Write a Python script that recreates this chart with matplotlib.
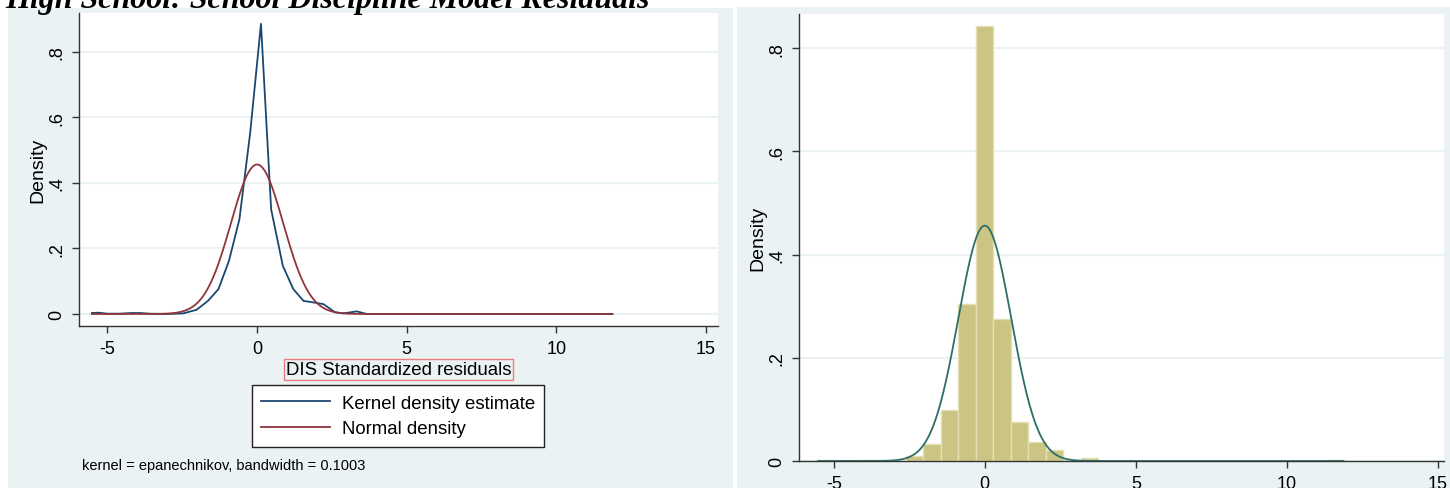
import numpy as np
import matplotlib
matplotlib.use("Agg")
import matplotlib.pyplot as plt
from matplotlib.patches import Rectangle
from matplotlib.lines import Line2D

plt.rcParams['font.family'] = ['Liberation Sans', 'DejaVu Sans']
plt.rcParams['axes.unicode_minus'] = False

# kernel density estimate of the standardized residuals
kde_x = [-5.52, -5.3, -5.0, -4.6, -4.2, -3.9, -3.6, -3.0, -2.46, -2.02, -1.64,
         -1.29, -0.94, -0.59, -0.23, 0.13, 0.47, 0.86, 1.21, 1.55, 1.9, 2.22,
         2.61, 2.89, 3.33, 3.67, 4.0, 11.87]
kde_y = [0.003, 0.004, 0.001, 0.001, 0.003, 0.003, 0.001, 0.0, 0.002, 0.013, 0.04,
         0.076, 0.162, 0.289, 0.553, 0.885, 0.319, 0.147, 0.076, 0.040, 0.035, 0.030,
         0.005, 0.002, 0.008, 0.0, 0.0, 0.0]

# histogram: 30 bins from the min to the max residual
resid_min = -5.52
resid_max = 11.87
hist_density = [0.002, 0.0, 0.002, 0.002, 0.0, 0.010, 0.032, 0.099, 0.305, 0.843,
                0.276, 0.076, 0.037, 0.022, 0.0, 0.006, 0.0, 0.0, 0.0, 0.0,
                0.0, 0.0, 0.0, 0.0, 0.0, 0.0, 0.0, 0.0, 0.0, 0.002]

# normal density fitted to the residuals
resid_mean = 0.0
resid_sd = 0.875

xticks = [-5, 0, 5, 10, 15]
yticks = [0, 0.2, 0.4, 0.6, 0.8]
ytick_labels = ['0', '.2', '.4', '.6', '.8']

BG = '#EAF2F3'
GRID = '#EAF2F3'
NAVY = '#1A476F'
MAROON = '#90353B'
TEAL = '#2D6E68'
KHAKI = '#CBC583'

W, H = 1450, 489
fig = plt.figure(figsize=(W / 100, H / 100), dpi=100)
fig.patch.set_facecolor('white')

# graph region backgrounds
fig.add_artist(Rectangle((8 / W, 0), (733 - 8) / W, 1 - 9 / H,
                         transform=fig.transFigure, fc=BG, ec='none', zorder=0))
fig.add_artist(Rectangle((737 / W, 0), (W - 737) / W, 1 - 8 / H,
                         transform=fig.transFigure, fc=BG, ec='none', zorder=0))


def style_axes(ax):
    ax.set_facecolor('white')
    for s in ('top', 'right'):
        ax.spines[s].set_visible(False)
    for s in ('left', 'bottom'):
        ax.spines[s].set_color('#333333')
        ax.spines[s].set_linewidth(1.0)
    ax.set_xticks(xticks)
    ax.set_yticks(yticks)
    ax.set_yticklabels(ytick_labels, rotation=90, va='center')
    ax.tick_params(direction='out', length=5, width=1, color='#333333',
                   labelsize=13, pad=5)
    ax.grid(axis='y', color=GRID, lw=1.5)
    ax.set_axisbelow(True)
    ax.set_ylabel('Density', fontsize=14, labelpad=1)


def normal_pdf(x):
    return np.exp(-0.5 * ((x - resid_mean) / resid_sd) ** 2) / (resid_sd * np.sqrt(2 * np.pi))


grid_x = np.linspace(resid_min, resid_max, 600)

# left: kernel density vs normal
ax1 = fig.add_axes([79 / W, 1 - 327 / H, (718 - 79) / W, (327 - 14) / H])
style_axes(ax1)
ax1.plot(kde_x, kde_y, color=NAVY, lw=1.3)
ax1.plot(grid_x, normal_pdf(grid_x), color=MAROON, lw=1.3)
ax1.set_xlim(-5.95, 15.4)
ax1.set_ylim(-0.0366, 0.918)
ax1.set_xlabel('DIS Standardized residuals', fontsize=13.4, labelpad=3,
               bbox=dict(boxstyle='square,pad=0.1', fc='none', ec='#EE7B7B', lw=1))

handles = [Line2D([], [], color=NAVY, lw=1.3), Line2D([], [], color=MAROON, lw=1.3)]
leg = fig.legend(handles, ['Kernel density estimate', 'Normal density'],
                 loc='center', bbox_to_anchor=(398 / W, 1 - 417 / H),
                 fontsize=13.4, frameon=True, fancybox=False, framealpha=1,
                 handlelength=3.7, handletextpad=0.65, borderpad=0.5,
                 labelspacing=0.45, borderaxespad=0)
leg.get_frame().set_edgecolor('#222222')
leg.get_frame().set_facecolor('white')
leg.get_frame().set_linewidth(1.0)

fig.text(82 / W, 1 - 466 / H, 'kernel = epanechnikov, bandwidth = 0.1003',
         fontsize=10.5, va='center', ha='left')

# right: histogram with normal overlay
ax2 = fig.add_axes([799 / W, 1 - 462 / H, (1444 - 799) / W, (462 - 15) / H])
style_axes(ax2)
bin_w = (resid_max - resid_min) / len(hist_density)
left_edges = resid_min + bin_w * np.arange(len(hist_density))
ax2.bar(left_edges, hist_density, width=bin_w, align='edge', color=KHAKI,
        edgecolor='#E4E0B4', lw=1.0, zorder=2)
ax2.plot(grid_x, normal_pdf(grid_x), color=TEAL, lw=1.3, zorder=3)
ax2.set_xlim(-6.15, 15.2)
ax2.set_ylim(0, 0.866)

fig.text(5 / W, 1 - 8 / H, 'High School: School Discipline Model Residuals',
         fontfamily='Liberation Serif', fontweight='bold', fontstyle='italic',
         fontsize=23, va='baseline', ha='left')

fig.savefig('out.png', dpi=100)
